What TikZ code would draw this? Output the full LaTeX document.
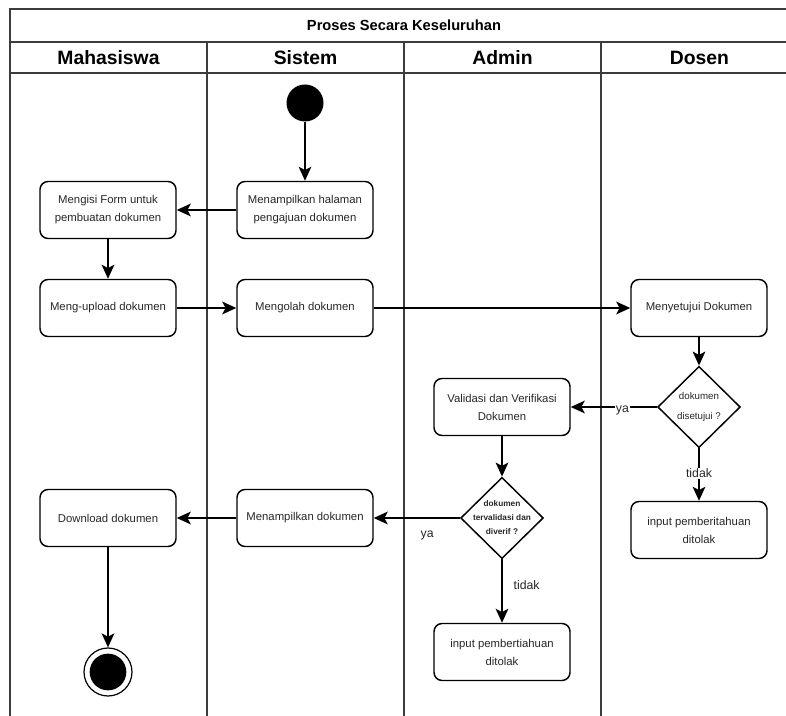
\documentclass[tikz,border=0pt]{standalone}
\usepackage{fontspec}
\setmainfont{Liberation Sans}
\usepackage{tikz}
\usetikzlibrary{shapes.geometric, arrows.meta, positioning}
\definecolor{Lane_Gray}{HTML}{3C3C3C}
\definecolor{Text_Gray}{HTML}{262626}

\tikzset{
    activity/.style={draw, rounded corners=6pt, line width=1.1pt, minimum width=102pt,
        minimum height=42.75pt, align=center, text=Text_Gray,
        font=\fontsize{8.5}{13.5}\selectfont},
    decision/.style={draw, diamond, line width=1.1pt, minimum width=62pt,
        minimum height=61pt, inner sep=-6pt, align=center, text=Text_Gray},
    flow/.style={-{Stealth[length=10.5pt, width=9.5pt, inset=2.5pt]}, line width=1.5pt},
    guard/.style={fill=white, inner sep=1pt, text=Text_Gray,
        font=\fontsize{9.2}{11}\selectfont},
    lanehead/.style={font=\bfseries\fontsize{14.5}{17}\selectfont},
    lane/.style={Lane_Gray, line width=1.2pt}
}

\begin{document}
\begin{tikzpicture}[x=0.75pt, y=-0.75pt]
    \useasboundingbox (0,0) rectangle (786,716);
    \clip (0,0) rectangle (786,716);

    % Swimlanes
    \draw[lane] (10,9) rectangle (798,42);
    \draw[lane] (10,73) -- (798,73);
    \foreach \x in {10,207,404,601,798}
        \draw[lane] (\x,42) -- (\x,720);
    \node[font=\bfseries\fontsize{11}{13}\selectfont] (title) at (404,25.5) {Proses Secara Keseluruhan};
    \foreach \lane [count=\i from 0] in {Mahasiswa, Sistem, Admin, Dosen} {
        \node[lanehead] (head\i) at (108.5+197*\i, 57.5) {\lane};
    }

    % Activities
    \node[circle, fill=black, minimum size=27.75pt, inner sep=0pt] (start) at (305,103) {};
    \node[activity] (tampilhal) at (305,210) {Menampilkan halaman\\pengajuan dokumen};
    \node[activity] (isiform) at (108,210) {Mengisi Form untuk\\pembuatan dokumen};
    \node[activity] (upload) at (108,308) {Meng-upload dokumen};
    \node[activity] (olah) at (305,308) {Mengolah dokumen};
    \node[activity] (setuju) at (699,308) {Menyetujui Dokumen};
    \node[decision, font=\fontsize{7.3}{15}\selectfont] (cekSetuju) at (699,407) {dokumen\\disetujui ?};
    \node[activity] (validasi) at (502,407) {Validasi dan Verifikasi\\Dokumen};
    \node[activity] (tolakDosen) at (699,530) {input pemberitahuan\\ditolak};
    \node[decision, font=\bfseries\fontsize{6.2}{10.5}\selectfont] (cekValid) at (502,518) {dokumen\\tervalidasi dan\\diverif ?};
    \node[activity] (tolakAdmin) at (502,652) {input pembertiahuan\\ditolak};
    \node[activity] (tampilDok) at (305,518) {Menampilkan dokumen};
    \node[activity] (download) at (108,518) {Download dokumen};
    \node[circle, draw, fill=white, line width=0.9pt, minimum size=36pt, inner sep=0pt] (finish) at (108,672) {};
    \node[circle, fill=black, minimum size=27.5pt, inner sep=0pt] (finishdot) at (finish) {};

    % Flow
    \draw[flow] (start) -- (tampilhal);
    \draw[flow] (tampilhal) -- (isiform);
    \draw[flow] (isiform) -- (upload);
    \draw[flow] (upload) -- (olah);
    \draw[flow] (olah) -- (setuju);
    \draw[flow] (setuju) -- (cekSetuju);
    \draw[flow] (cekSetuju) -- node[guard, pos=0.4, yshift=-2.5pt] (yaSetuju) {ya} (validasi);
    \draw[flow] (cekSetuju) -- node[guard, pos=0.48] (tidakSetuju) {tidak} (tolakDosen);
    \draw[flow] (validasi) -- (cekValid);
    \draw[flow] (cekValid) -- node[guard, pos=0.38, below=8pt] (yaValid) {ya} (tampilDok);
    \draw[flow] (cekValid) -- node[guard, pos=0.4, right=7pt] (tidakValid) {tidak} (tolakAdmin);
    \draw[flow] (tampilDok) -- (download);
    \draw[flow] (download) -- (finish);
\end{tikzpicture}
\end{document}
